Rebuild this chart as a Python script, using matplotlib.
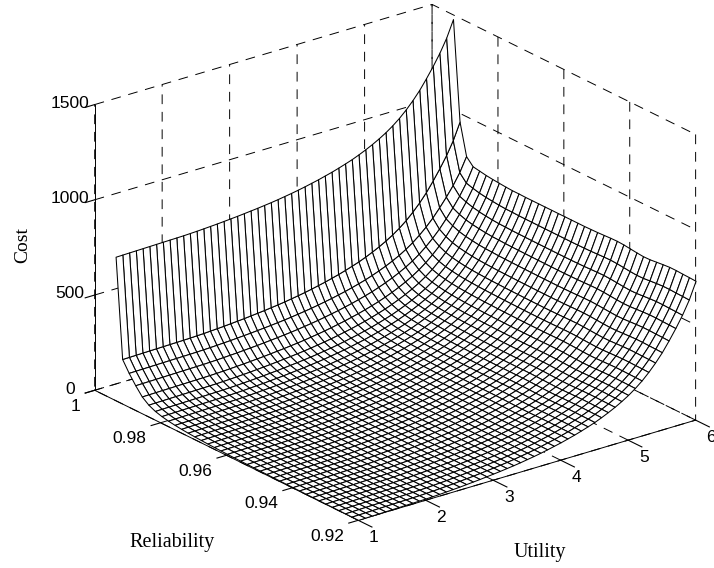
import numpy as np
import matplotlib
matplotlib.use("Agg")
import matplotlib.pyplot as plt

plt.rcParams['font.family'] = ['Liberation Sans', 'DejaVu Sans']

# mesh nodes of the picture
utility = np.arange(51) * 0.1 + 1
reliability = 0.9935 - np.arange(38) * 0.00199

# cost read along the two ends of the mesh, from the top row (reliability near 1) down to 0.92
cost_at_u1 = [754, 234, 178, 130, 88, 62, 46, 36, 29, 24, 20, 17, 14.5, 12.5, 11, 9.5, 8.5, 7.5, 6.5,
              6, 5.5, 5, 4.5, 4, 3.6, 3.2, 2.9, 2.6, 2.3, 2, 1.8, 1.6, 1.4, 1.2, 1, 0.8, 0.6, 0.5]
cost_at_u6 = [1476, 955, 790, 754, 748, 742, 738, 735, 732, 730, 730, 729, 729, 729, 729, 729, 729, 729, 729,
              729, 729, 730, 731, 733, 735, 736, 734, 730, 726, 723, 724, 728, 732, 735, 735, 733, 732, 730]
# share of that gap reached at each utility, the same on every row read
rise_with_u = [0, 0.001, 0.002, 0.003, 0.004, 0.005, 0.006, 0.007, 0.008, 0.009,
               0.010, 0.012, 0.014, 0.017, 0.020, 0.023, 0.027, 0.031, 0.035, 0.040,
               0.045, 0.050, 0.056, 0.062, 0.069, 0.077, 0.085, 0.094, 0.104, 0.115,
               0.126, 0.139, 0.152, 0.167, 0.183, 0.200, 0.220, 0.242, 0.266, 0.293,
               0.323, 0.358, 0.398, 0.445, 0.498, 0.558, 0.628, 0.703, 0.785, 0.880, 1]

utility_ticks = [1, 2, 3, 4, 5, 6]
reliability_ticks = [0.92, 0.94, 0.96, 0.98, 1]
reliability_labels = ['0.92', '0.94', '0.96', '0.98', '1']
cost_ticks = [0, 500, 1000, 1500]

# inner nodes are not read one by one: they are built from the three profiles above
c1 = np.array(cost_at_u1)
c6 = np.array(cost_at_u6)
cost = c1[:, None] + np.array(rise_with_u)[None, :] * (c6 - c1)[:, None]
U, R = np.meshgrid(utility, reliability)

fig = plt.figure(figsize=(7.14, 5.68), dpi=100)
ax = fig.add_axes([28.5 / 714, (296 - 357) / 568, 1, 714 / 568], projection='3d', proj_type='ortho')
ax.patch.set_alpha(0)
ax.view_init(elev=22.5, azim=-127.8)
ax.set_box_aspect((426, 429, 308.5), zoom=0.925)

ax.plot_surface(U, R, cost, rstride=1, cstride=1, color='white', edgecolor='black',
                linewidth=0.75, shade=False)

ax.set_xlim(1, 6, view_margin=0)
ax.set_ylim(0.92, 1, view_margin=0)
ax.set_zlim(0, 1500, view_margin=0)
ax.set_xticks(utility_ticks)
ax.set_yticks(reliability_ticks)
ax.set_yticklabels(reliability_labels)
ax.set_zticks(cost_ticks)

for axis, tick_len in ((ax.xaxis, 0.65), (ax.yaxis, 0.35), (ax.zaxis, 0.35)):
    axis.pane.set_facecolor('white')
    axis.pane.set_edgecolor('white')
    axis._axinfo['grid'].update(color='black', linestyle=(0, (10, 8)), linewidth=0.7)
    axis._axinfo['tick'].update(inward_factor=tick_len, outward_factor=0)
    axis._axinfo['axisline']['color'] = 'black'
    axis.line.set_linewidth(0.7)
    axis.set_tick_params(labelsize=12.5, colors='black', pad=3)
    for lab in axis.get_ticklabels():
        lab.set_va('center')
ax.zaxis.set_ticks_position('upper')
for lab in ax.xaxis.get_ticklabels():
    lab.set_ha('left')
for lab in ax.yaxis.get_ticklabels():
    lab.set_ha('right')

fig.text(23 / 714, 1 - 245 / 568, 'Cost', family='Liberation Serif', fontsize=14, rotation=90,
         ha='center', va='center')
fig.text(172 / 714, 1 - 543 / 568, 'Reliability', family='Liberation Serif', fontsize=14.5,
         ha='center', va='center')
fig.text(540 / 714, 1 - 552 / 568, 'Utility', family='Liberation Serif', fontsize=14.5,
         ha='center', va='center')

fig.savefig("out.png", dpi=100)
